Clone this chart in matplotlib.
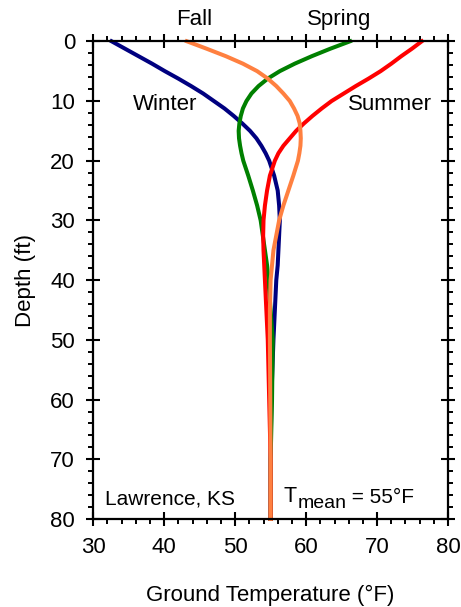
import matplotlib
matplotlib.use("Agg")
import matplotlib.pyplot as plt
from matplotlib.ticker import MultipleLocator

plt.rcParams['font.family'] = ['Liberation Sans', 'DejaVu Sans']

# depth (ft) and ground temperature (F)
depth = [0, 1.25, 2.5, 3.75, 5, 6.25, 7.5, 8.75, 10, 11.25, 12.5, 13.75, 15, 16.25,
         17.5, 18.75, 20, 22.5, 25, 27.5, 30, 32.5, 35, 37.5, 40, 45, 50, 60, 70, 80]
winter = [32.6, 34.5, 36.4, 38.3, 40.1, 42.0, 43.8, 45.5, 47.0, 48.5, 49.8, 51.0, 52.1, 53.0,
          53.7, 54.3, 54.8, 55.5, 56.0, 56.2, 56.3, 56.2, 56.1, 56.0, 55.8, 55.6, 55.4, 55.1, 55.0, 55.0]
spring = [66.2, 63.4, 60.8, 58.4, 56.3, 54.6, 53.3, 52.3, 51.6, 51.1, 50.8, 50.6, 50.5, 50.55,
          50.7, 50.9, 51.15, 51.85, 52.5, 53.1, 53.6, 53.9, 54.2, 54.5, 54.7, 55.0, 55.3, 55.2, 55.0, 55.0]
summer = [76.3, 74.9, 73.4, 72.0, 70.5, 68.8, 67.0, 65.3, 63.6, 62.2, 60.9, 59.7, 58.6, 57.7,
          56.8, 56.1, 55.6, 54.9, 54.5, 54.2, 54.0, 53.95, 54.0, 54.1, 54.2, 54.4, 54.6, 54.8, 55.0, 55.0]
fall = [43.2, 46.0, 48.7, 51.1, 53.1, 54.6, 55.8, 56.8, 57.7, 58.3, 58.8, 59.1, 59.2, 59.25,
        59.2, 59.05, 58.85, 58.2, 57.5, 56.8, 56.2, 55.8, 55.4, 55.2, 55.0, 54.9, 54.9, 54.95, 55.0, 55.0]

fig = plt.figure(figsize=(4.61, 6.07), dpi=100)
ax = fig.add_axes([0.202, 0.145, 0.770, 0.787])

lw = 2.9
ax.plot(winter, depth, color='#000080', lw=lw, clip_on=False)
ax.plot(spring, depth, color='#008000', lw=lw, clip_on=False)
ax.plot(summer, depth, color='#ff0000', lw=lw, clip_on=False)
ax.plot(fall, depth, color='#ff8040', lw=lw, clip_on=False)

ax.set_xlim(30, 80)
ax.set_ylim(80, 0)
ax.xaxis.set_major_locator(MultipleLocator(10))
ax.xaxis.set_minor_locator(MultipleLocator(2))
ax.yaxis.set_major_locator(MultipleLocator(10))
ax.yaxis.set_minor_locator(MultipleLocator(2))
ax.tick_params(which='major', direction='inout', length=10, width=1.5,
               top=True, right=True, labelsize=16, pad=8)
ax.tick_params(which='minor', direction='out', length=3.6, width=1.4,
               top=True, right=True)
for s in ax.spines.values():
    s.set_linewidth(1.6)

ax.set_xlabel('Ground Temperature (°F)', fontsize=16, labelpad=19)
ax.set_ylabel('Depth (ft)', fontsize=16, labelpad=10)

ax.text(44.3, -2.7, 'Fall', fontsize=16, ha='center', va='baseline')
ax.text(64.7, -2.7, 'Spring', fontsize=16, ha='center', va='baseline')
ax.text(40.1, 11.5, 'Winter', fontsize=16, ha='center', va='baseline')
ax.text(71.8, 11.5, 'Summer', fontsize=16, ha='center', va='baseline')
ax.text(31.7, 77.5, 'Lawrence, KS', fontsize=15, ha='left', va='baseline')

t1 = ax.text(56.8, 77.2, 'T', fontsize=15.5, ha='left', va='baseline')
t2 = ax.annotate('mean', xy=(1, 0), xycoords=t1, xytext=(0.5, -3.5),
                 textcoords='offset points', fontsize=14, ha='left', va='bottom')
ax.annotate(' = 55°F', xy=(1, 0), xycoords=t2, xytext=(0, 3.5),
            textcoords='offset points', fontsize=15, ha='left', va='bottom')

fig.savefig('out.png', dpi=100)
